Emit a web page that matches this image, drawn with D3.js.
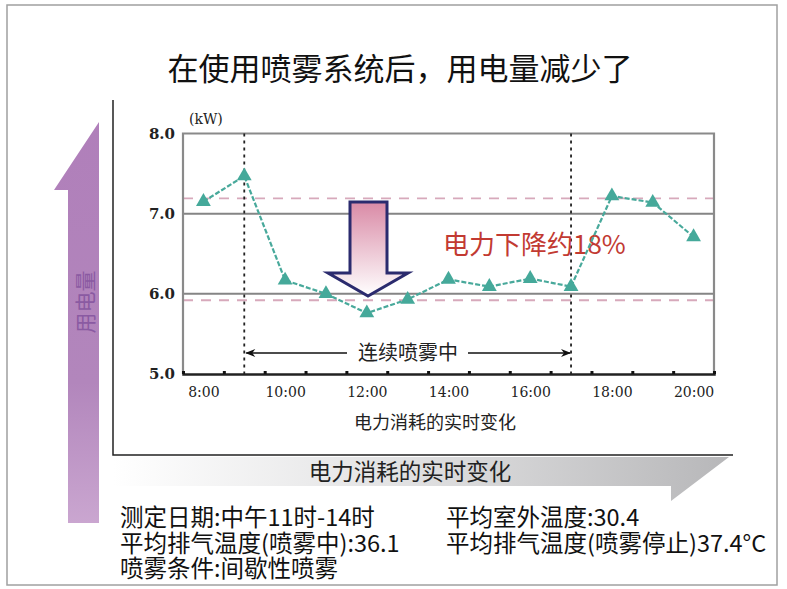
<!DOCTYPE html>
<html>
<head>
<meta charset="utf-8">
<script src="https://cdn.jsdelivr.net/npm/d3@7"></script>
<style>
  body { margin: 0; background: #fff; }
  svg { display: block; }
</style>
</head>
<body>
<svg id="chart" width="787" height="589"></svg>
<script>
// chart data
var hours = [8, 9, 10, 11, 12, 13, 14, 15, 16, 17, 18, 19, 20]
var power = [7.15, 7.47, 6.17, 6.0, 5.76, 5.93, 6.18, 6.09, 6.19, 6.09, 7.22, 7.14, 6.71]
var yTicks = [5.0, 6.0, 7.0, 8.0]
var xLabels = [8, 10, 12, 14, 16, 18, 20]
var refLines = [7.19, 5.92]      // pink dashed average lines
var gridLines = [6.0, 7.0]
var sprayStart = 9, sprayEnd = 17

var title = "在使用喷雾系统后，用电量减少了"
var notes = [
  ["测定日期:中午11时-14时", "平均室外温度:30.4"],
  ["平均排气温度(喷雾中):36.1", "平均排气温度(喷雾停止)37.4°C"],
  ["喷雾条件:间歇性喷雾", ""]
]

var svg = d3.select("#chart")
var serif = "'DejaVu Serif', 'Liberation Serif', serif"
var sans = "'Noto Sans CJK SC', 'Noto Sans', sans-serif"

var defs = svg.append("defs")

var g1 = defs.append("linearGradient").attr("id", "purp").attr("x1", 0).attr("y1", 0).attr("x2", 0).attr("y2", 1)
g1.append("stop").attr("offset", "0%").attr("stop-color", "#b07fba")
g1.append("stop").attr("offset", "65%").attr("stop-color", "#b286bc")
g1.append("stop").attr("offset", "100%").attr("stop-color", "#caa6d0")

var g2 = defs.append("linearGradient").attr("id", "band").attr("x1", 0).attr("y1", 0).attr("x2", 1).attr("y2", 0)
g2.append("stop").attr("offset", "0%").attr("stop-color", "#ffffff")
g2.append("stop").attr("offset", "45%").attr("stop-color", "#e3e3e4")
g2.append("stop").attr("offset", "100%").attr("stop-color", "#b7b7b9")

var g3 = defs.append("linearGradient").attr("id", "pinkdown").attr("x1", 0).attr("y1", 0).attr("x2", 0).attr("y2", 1)
g3.append("stop").attr("offset", "0%").attr("stop-color", "#d98aa6")
g3.append("stop").attr("offset", "100%").attr("stop-color", "#ffffff")

defs.append("marker").attr("id", "ahead")
    .attr("viewBox", "0 0 10 10").attr("refX", 9).attr("refY", 5)
    .attr("markerWidth", 26).attr("markerHeight", 10).attr("orient", "auto-start-reverse")
    .attr("markerUnits", "userSpaceOnUse")
  .append("path").attr("d", "M0,1 L10,5 L0,9 L3,5 Z").attr("fill", "#111")

// outer frame
svg.append("rect").attr("x", 7).attr("y", 5).attr("width", 770).attr("height", 580)
    .attr("fill", "none").attr("stroke", "#a0a0a0").attr("stroke-width", 1.5)

svg.append("text").attr("x", 400).attr("y", 80).attr("text-anchor", "middle")
    .style("font-family", sans).style("font-size", "31px").attr("fill", "#111")
    .text(title)

// purple "用电量" arrow
svg.append("path")
    .attr("d", "M99,122 L99,523 L68,523 L68,190 L54,190 Z")
    .attr("fill", "url(#purp)")
svg.append("text").attr("transform", "translate(93,302) rotate(-90)")
    .attr("text-anchor", "middle").style("font-family", sans).style("font-size", "21px")
    .attr("fill", "#8a5aa2").text("用电量")

// grey band arrow along bottom
svg.append("path")
    .attr("d", "M113,457 L729,457 L671,501 L671,486 L113,486 Z")
    .attr("fill", "url(#band)")
svg.append("text").attr("x", 410).attr("y", 480).attr("text-anchor", "middle")
    .style("font-family", sans).style("font-size", "22.5px").attr("fill", "#222")
    .text("电力消耗的实时变化")

// black L frame
svg.append("path").attr("d", "M113,100 L113,455 L733,455")
    .attr("fill", "none").attr("stroke", "#222").attr("stroke-width", 1.5)

// inner chart
var x = d3.scaleLinear().domain([7.5, 20.5]).range([183, 714])
var y = d3.scaleLinear().domain([5, 8]).range([374, 133.5])

var plot = svg.append("g")

plot.selectAll(".grid").data(gridLines).enter().append("line")
    .attr("x1", x(7.5)).attr("x2", x(20.5))
    .attr("y1", d => y(d)).attr("y2", d => y(d))
    .attr("stroke", "#858585").attr("stroke-width", 2)

plot.selectAll(".ref").data(refLines).enter().append("line")
    .attr("x1", x(7.5)).attr("x2", x(20.5))
    .attr("y1", d => y(d)).attr("y2", d => y(d))
    .attr("stroke", "#d7a9bb").attr("stroke-width", 1.8).attr("stroke-dasharray", "10,8")

// plot border
plot.append("path")
    .attr("d", "M" + x(7.5) + "," + y(5) + " L" + x(7.5) + "," + y(8) + " L" + x(20.5) + "," + y(8) + " L" + x(20.5) + "," + y(5))
    .attr("fill", "none").attr("stroke", "#8a8a8a").attr("stroke-width", 2.2)

// spray period dotted lines
plot.selectAll(".vline").data([sprayStart, sprayEnd]).enter().append("line")
    .attr("x1", d => x(d)).attr("x2", d => x(d))
    .attr("y1", y(8)).attr("y2", y(5))
    .attr("stroke", "#222").attr("stroke-width", 1.8).attr("stroke-dasharray", "3,4")

// x axis: half-hour ticks, hour labels
var halfTicks = d3.range(7.5, 20.6, 1)
plot.append("g").attr("transform", "translate(0," + y(5) + ")")
    .call(d3.axisBottom(x).tickValues(halfTicks).tickSize(-3).tickFormat(""))
    .call(g => g.select(".domain").attr("stroke", "#222").attr("stroke-width", 2.5))
    .call(g => g.selectAll(".tick line").attr("stroke", "#111").attr("stroke-width", 3))

plot.append("g").attr("transform", "translate(0," + y(5) + ")")
    .call(d3.axisBottom(x).tickValues(xLabels).tickSize(0).tickPadding(13).tickFormat(d => d + ":00"))
    .call(g => g.select(".domain").remove())
    .call(g => g.selectAll("text").style("font-family", serif).style("font-size", "14px").attr("fill", "#222"))

plot.append("g").attr("transform", "translate(" + x(7.5) + ",0)")
    .call(d3.axisLeft(y).tickValues(yTicks).tickSize(0).tickPadding(8).tickFormat(d3.format(".1f")))
    .call(g => g.select(".domain").remove())
    .call(g => g.selectAll("text").style("font-family", serif).style("font-size", "15px")
        .style("font-weight", "bold").attr("fill", "#222"))

plot.append("text").attr("x", 189).attr("y", 124)
    .style("font-family", serif).style("font-size", "14px").attr("fill", "#222").text("(kW)")

plot.append("text").attr("x", 435).attr("y", 429).attr("text-anchor", "middle")
    .style("font-family", sans).style("font-size", "18px").attr("fill", "#222")
    .text("电力消耗的实时变化")

// big down arrow
plot.append("path")
    .attr("d", "M350,202 L387,202 L387,273 L408,273 L368,296 L328,273 L350,273 Z")
    .attr("fill", "url(#pinkdown)").attr("stroke", "#2b2b6e").attr("stroke-width", 3)
    .attr("stroke-linejoin", "miter")

plot.append("text").attr("x", 443).attr("y", 254)
    .style("font-family", sans).style("font-size", "26px").attr("fill", "#c23a32")
    .text("电力下降约18%")

// 连续喷雾中 annotation
plot.append("line").attr("x1", 347).attr("x2", x(sprayStart) + 2).attr("y1", 353).attr("y2", 353)
    .attr("stroke", "#111").attr("stroke-width", 1.5).attr("marker-end", "url(#ahead)")
plot.append("line").attr("x1", 468).attr("x2", x(sprayEnd) - 1).attr("y1", 353).attr("y2", 353)
    .attr("stroke", "#111").attr("stroke-width", 1.5).attr("marker-end", "url(#ahead)")
plot.append("text").attr("x", 408).attr("y", 360).attr("text-anchor", "middle")
    .style("font-family", sans).style("font-size", "20px").attr("fill", "#222")
    .text("连续喷雾中")

// data line + triangles
var pts = hours.map((h, i) => ({h: h, v: power[i]}))
var line = d3.line().x(d => x(d.h)).y(d => y(d.v))
plot.append("path").datum(pts).attr("d", line)
    .attr("fill", "none").attr("stroke", "#48a99b").attr("stroke-width", 2.2).attr("stroke-dasharray", "5,2")

plot.selectAll(".tri").data(pts).enter().append("path")
    .attr("d", d3.symbol().type(d3.symbolTriangle).size(95))
    .attr("transform", d => "translate(" + x(d.h) + "," + y(d.v) + ")")
    .attr("fill", "#45a99a")

// notes below
var noteX = [120, 446]
notes.forEach(function(row, r) {
  row.forEach(function(t, c) {
    svg.append("text").attr("x", noteX[c]).attr("y", 526 + r * 25.5)
      .style("font-family", sans).style("font-size", "23.5px").attr("fill", "#111").text(t)
  })
})
</script>
</body>
</html>
